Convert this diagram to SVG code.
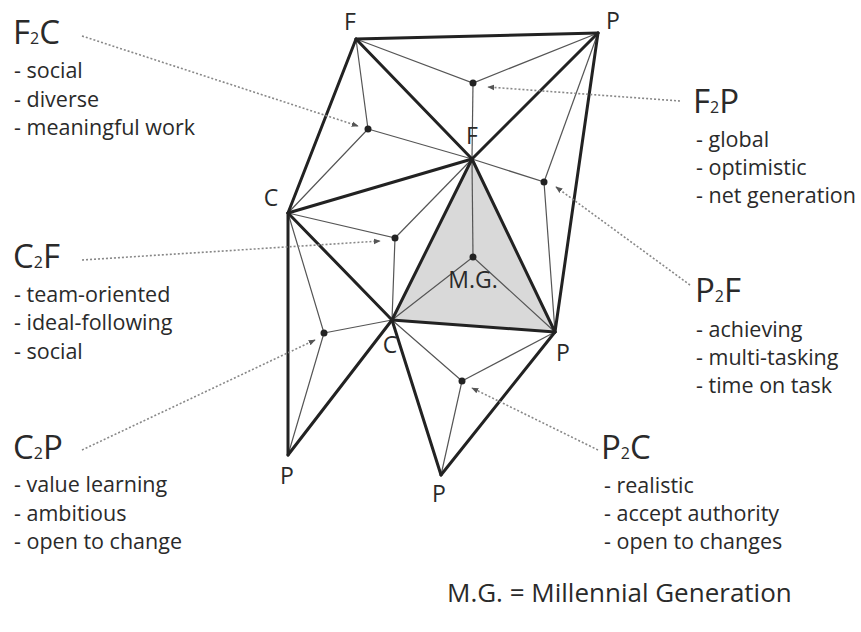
<svg xmlns="http://www.w3.org/2000/svg" width="861" height="632" viewBox="0 0 861 632">
<defs>
<style>
.thick{stroke:#222;stroke-width:3;fill:none;stroke-linecap:round;stroke-linejoin:round}
.thin{stroke:#555;stroke-width:1.2;fill:none}
.dot{fill:#222}
.lead{stroke:#888;stroke-width:1.6;stroke-dasharray:2 2;fill:none}
.vl{font-family:"Open Sans","Noto Sans",sans-serif;font-size:23px;fill:#2a2a2a}
.ttl{font-family:"Open Sans","Noto Sans",sans-serif;font-size:33px;fill:#2a2a2a}
.sub{font-size:16px}
.item{font-family:"Open Sans","Noto Sans",sans-serif;font-size:21.5px;fill:#2a2a2a}
.foot{font-family:"Open Sans","Noto Sans",sans-serif;font-size:26px;fill:#2a2a2a}
</style>
<marker id="ah" viewBox="0 0 10 10" refX="9" refY="5" markerWidth="7" markerHeight="7" orient="auto" markerUnits="userSpaceOnUse">
<path d="M0,1 L10,5 L0,9 z" fill="#555"/>
</marker>
</defs>
<rect width="861" height="632" fill="#fff"/>

<g id="shaded">
<polygon points="472,159 392,320 555,332" fill="#d9d9d9"/>
</g>

<g id="thin-lines">
<polyline class="thin" points="356,39 473,83 598,33"/><line class="thin" x1="473" y1="83" x2="472" y2="159"/>
<polyline class="thin" points="356,39 368,129 288,213"/><line class="thin" x1="368" y1="129" x2="472" y2="159"/>
<polyline class="thin" points="472,159 544,182 555,332"/><line class="thin" x1="544" y1="182" x2="598" y2="33"/>
<polyline class="thin" points="288,213 395,238 392,320"/><line class="thin" x1="395" y1="238" x2="472" y2="159"/>
<polyline class="thin" points="392,320 473,257 555,332"/><line class="thin" x1="473" y1="257" x2="472" y2="159"/>
<polyline class="thin" points="288,213 324,333 288,455"/><line class="thin" x1="324" y1="333" x2="392" y2="320"/>
<polyline class="thin" points="392,320 462,381 441,475"/><line class="thin" x1="462" y1="381" x2="555" y2="332"/>
</g>

<g id="thick-lines">
<line class="thick" x1="356" y1="39" x2="598" y2="33"/>
<line class="thick" x1="356" y1="39" x2="288" y2="213"/>
<line class="thick" x1="356" y1="39" x2="472" y2="159"/>
<line class="thick" x1="598" y1="33" x2="472" y2="159"/>
<line class="thick" x1="598" y1="33" x2="555" y2="332"/>
<line class="thick" x1="288" y1="213" x2="472" y2="159"/>
<line class="thick" x1="288" y1="213" x2="392" y2="320"/>
<line class="thick" x1="288" y1="213" x2="288" y2="455"/>
<line class="thick" x1="392" y1="320" x2="288" y2="455"/>
<line class="thick" x1="392" y1="320" x2="472" y2="159"/>
<line class="thick" x1="472" y1="159" x2="555" y2="332"/>
<line class="thick" x1="392" y1="320" x2="555" y2="332"/>
<line class="thick" x1="392" y1="320" x2="441" y2="475"/>
<line class="thick" x1="441" y1="475" x2="555" y2="332"/>
</g>

<g id="dots">
<circle class="dot" cx="473" cy="83" r="3.5"/>
<circle class="dot" cx="368" cy="129" r="3.5"/>
<circle class="dot" cx="544" cy="182" r="3.5"/>
<circle class="dot" cx="395" cy="238" r="3.5"/>
<circle class="dot" cx="473" cy="257" r="3.5"/>
<circle class="dot" cx="324" cy="333" r="3.5"/>
<circle class="dot" cx="462" cy="381" r="3.5"/>
</g>

<g id="vertex-labels">
<text class="vl" x="350" y="30" text-anchor="middle">F</text>
<text class="vl" x="613" y="29" text-anchor="middle">P</text>
<text class="vl" x="472" y="144" text-anchor="middle">F</text>
<text class="vl" x="271" y="206" text-anchor="middle">C</text>
<text class="vl" x="473" y="288" text-anchor="middle">M.G.</text>
<text class="vl" x="390" y="353" text-anchor="middle">C</text>
<text class="vl" x="563" y="361" text-anchor="middle">P</text>
<text class="vl" x="287" y="484" text-anchor="middle">P</text>
<text class="vl" x="439" y="502" text-anchor="middle">P</text>
</g>

<g id="connectors">
<line class="lead" x1="82" y1="36" x2="358" y2="126" marker-end="url(#ah)"/>
<line class="lead" x1="680" y1="101" x2="488" y2="87" marker-end="url(#ah)"/>
<line class="lead" x1="690" y1="285" x2="556" y2="187" marker-end="url(#ah)"/>
<line class="lead" x1="82" y1="260" x2="380" y2="241" marker-end="url(#ah)"/>
<line class="lead" x1="82" y1="450" x2="315" y2="340" marker-end="url(#ah)"/>
<line class="lead" x1="598" y1="450" x2="472" y2="388" marker-end="url(#ah)"/>
</g>

<g id="F2C">
<text class="ttl" x="13" y="44">F<tspan class="sub">2</tspan>C</text>
<text class="item" x="14" y="78">- social</text>
<text class="item" x="14" y="107">- diverse</text>
<text class="item" x="14" y="135">- meaningful work</text>
</g>
<g id="C2F">
<text class="ttl" x="13" y="268">C<tspan class="sub">2</tspan>F</text>
<text class="item" x="14" y="302">- team-oriented</text>
<text class="item" x="14" y="330">- ideal-following</text>
<text class="item" x="14" y="359">- social</text>
</g>
<g id="C2P">
<text class="ttl" x="13" y="459">C<tspan class="sub">2</tspan>P</text>
<text class="item" x="14" y="492">- value learning</text>
<text class="item" x="14" y="521">- ambitious</text>
<text class="item" x="14" y="549">- open to change</text>
</g>
<g id="F2P">
<text class="ttl" x="693" y="113">F<tspan class="sub">2</tspan>P</text>
<text class="item" x="696" y="147">- global</text>
<text class="item" x="696" y="175">- optimistic</text>
<text class="item" x="696" y="203">- net generation</text>
</g>
<g id="P2F">
<text class="ttl" x="695" y="302">P<tspan class="sub">2</tspan>F</text>
<text class="item" x="696" y="337">- achieving</text>
<text class="item" x="696" y="365">- multi-tasking</text>
<text class="item" x="696" y="393">- time on task</text>
</g>
<g id="P2C">
<text class="ttl" x="601" y="459">P<tspan class="sub">2</tspan>C</text>
<text class="item" x="604" y="493">- realistic</text>
<text class="item" x="604" y="521">- accept authority</text>
<text class="item" x="604" y="549">- open to changes</text>
</g>
<g id="legend">
<text class="foot" x="447" y="602">M.G. = Millennial Generation</text>
</g>
</svg>
